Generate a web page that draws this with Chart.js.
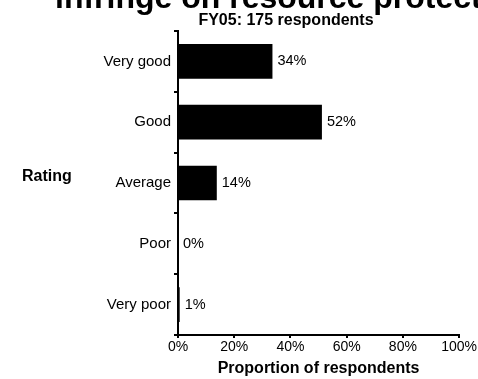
<!DOCTYPE html>
<html lang="en">

<head>
    <meta charset="UTF-8">
    <title>Rating chart</title>
    <script src="https://cdn.jsdelivr.net/npm/chart.js"></script>
    <style>
        body {
            margin: 0;
            padding: 0;
            background-color: #fff;
        }
    </style>
</head>

<body>
    <canvas id="chart" width="478" height="379"></canvas>

    <script>
        // data
        const ratings = ['Very good', 'Good', 'Average', 'Poor', 'Very poor'];
        const proportions = [33.6, 51.2, 13.8, 0, 0.6];
        const valueLabels = ['34%', '52%', '14%', '0%', '1%'];
        const xTicks = [0, 20, 40, 60, 80, 100];

        const fontFamily = "'Liberation Sans', Arial, sans-serif";

        // headings, the horizontal "Rating" label and the value labels
        const textPlugin = {
            id: 'textPlugin',
            afterDatasetsDraw(chart) {
                const ctx = chart.ctx;
                const area = chart.chartArea;
                ctx.save();
                ctx.fillStyle = '#000';

                // big title, cut off at the top of the picture
                ctx.font = 'bold 32px ' + fontFamily;
                ctx.textAlign = 'left';
                ctx.textBaseline = 'alphabetic';
                ctx.fillText('infringe on resource protection', 55, 8);

                ctx.font = 'bold 16px ' + fontFamily;
                ctx.textAlign = 'center';
                ctx.fillText('FY05: 175 respondents', 286, 25);

                ctx.font = 'bold 16px ' + fontFamily;
                ctx.textAlign = 'left';
                ctx.textBaseline = 'middle';
                ctx.fillText('Rating', 22, (area.top + area.bottom) / 2 - 6);

                // value labels at bar ends
                ctx.font = '14.5px ' + fontFamily;
                const meta = chart.getDatasetMeta(0);
                meta.data.forEach((bar, i) => {
                    ctx.fillText(valueLabels[i], bar.x + 5, bar.y);
                });
                ctx.restore();
            }
        };

        const ctx = document.getElementById('chart').getContext('2d');

        const chart = new Chart(ctx, {
            type: 'bar',
            data: {
                labels: ratings,
                datasets: [{
                    data: proportions,
                    backgroundColor: '#000',
                    borderWidth: 0,
                    barPercentage: 0.57,
                    categoryPercentage: 1
                }]
            },
            options: {
                indexAxis: 'y',
                responsive: false,
                animation: false,
                layout: {
                    padding: { top: 31, right: 17, left: 0, bottom: 0 }
                },
                plugins: {
                    legend: { display: false },
                    tooltip: { enabled: false }
                },
                scales: {
                    x: {
                        min: 0,
                        max: 100,
                        afterBuildTicks: function (scale) {
                            scale.ticks = xTicks.map(v => ({ value: v }));
                        },
                        afterFit: function (scale) {
                            scale.height = 44;
                        },
                        border: { color: '#000', width: 2 },
                        grid: {
                            drawOnChartArea: false,
                            color: '#000',
                            lineWidth: 2,
                            tickLength: 3
                        },
                        ticks: {
                            color: '#000',
                            padding: 1,
                            maxRotation: 0,
                            font: { family: fontFamily, size: 14 },
                            callback: v => v + '%'
                        },
                        title: {
                            display: true,
                            text: 'Proportion of respondents',
                            color: '#000',
                            padding: { top: 0, bottom: 1 },
                            font: { family: fontFamily, size: 16, weight: 'bold' }
                        }
                    },
                    y: {
                        afterFit: function (scale) {
                            scale.width = 178;
                        },
                        border: { color: '#000', width: 2 },
                        grid: {
                            offset: true,
                            drawOnChartArea: false,
                            color: '#000',
                            lineWidth: 2,
                            tickLength: 4
                        },
                        ticks: {
                            color: '#000',
                            padding: 3,
                            font: { family: fontFamily, size: 15 }
                        }
                    }
                }
            },
            plugins: [textPlugin]
        });
    </script>
</body>

</html>
